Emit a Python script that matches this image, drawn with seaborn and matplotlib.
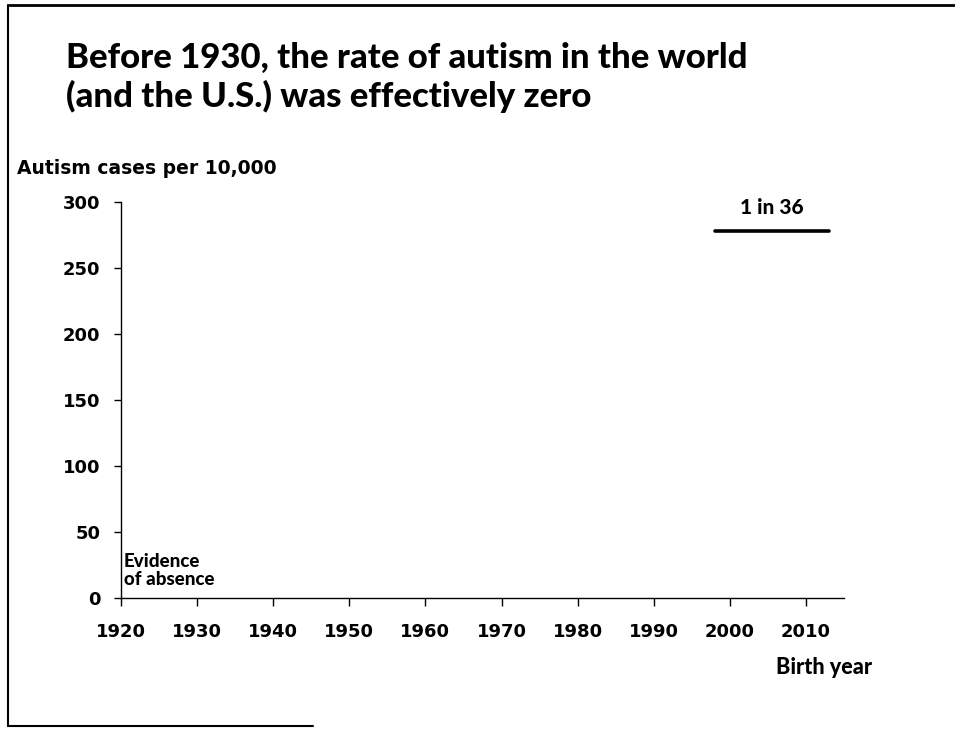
import matplotlib
matplotlib.use("Agg")
import matplotlib.pyplot as plt
from matplotlib.lines import Line2D
import seaborn as sns
import pandas as pd

# ---- data ----
title_lines = ["Before 1930, the rate of autism in the world",
               "(and the U.S.) was effectively zero"]
y_label = "Autism cases per 10,000"
x_label = "Birth year"
x_ticks = [1920, 1930, 1940, 1950, 1960, 1970, 1980, 1990, 2000, 2010]
y_ticks = [0, 50, 100, 150, 200, 250, 300]
rate_years = [1998, 2013]
rate_values = [277.8, 277.8]
rate_label = "1 in 36"
note_text = "Evidence\nof absence"

sns.set_theme(style="white")
plt.rcParams['font.family'] = ['Lato', 'DejaVu Sans']
plt.rcParams['text.color'] = 'black'
plt.rcParams['xtick.color'] = 'black'
plt.rcParams['ytick.color'] = 'black'
HEAVY = ['DejaVu Sans']

fig = plt.figure(figsize=(9.55, 7.29), dpi=100)
ax = fig.add_axes([121/955, 1-598/729, (844-121)/955, (598-202)/729])

df = pd.DataFrame({"year": rate_years, "rate": rate_values})
sns.lineplot(data=df, x="year", y="rate", ax=ax, color="black", linewidth=2.6)

W = "black"
ax.set_xlim(1920, 2015)
ax.set_ylim(0, 300)
ax.set_xticks(x_ticks)
ax.set_yticks(y_ticks)
ax.set_xticklabels([str(t) for t in x_ticks], fontsize=13, fontweight="bold", family=HEAVY)
ax.set_yticklabels([str(t) for t in y_ticks], fontsize=13, fontweight="bold", family=HEAVY)
ax.set_xlabel("")
ax.set_ylabel("")
for s in ["top", "right"]:
    ax.spines[s].set_visible(False)
for s in ["left", "bottom"]:
    ax.spines[s].set_color("black")
    ax.spines[s].set_linewidth(1.0)
ax.tick_params(axis="x", direction="out", length=6, width=1, color="black", pad=12, bottom=True)
ax.tick_params(axis="y", direction="out", length=5, width=1, color="black", pad=10, left=True)
ax.grid(False)

ax.text(sum(rate_years)/2, rate_values[0] + 11, rate_label, ha="center", va="bottom",
        fontsize=15, fontweight=W)
ax.text(1920.4, 21, note_text, ha="left", va="center", fontsize=13.5,
        fontweight=W, linespacing=1.05)

# titles / labels in figure space
fig.text(66/955, 1-58/729, title_lines[0], ha="left", va="center", fontsize=25, fontweight=W)
fig.text(66/955, 1-96/729, title_lines[1], ha="left", va="center", fontsize=25, fontweight=W)
fig.text(17/955, 1-168/729, y_label, ha="left", va="center", fontsize=13.5, fontweight="bold", family=HEAVY)
fig.text(872/955, 1-668/729, x_label, ha="right", va="center", fontsize=15.5, fontweight=W)

# slide frame
fig.add_artist(Line2D([9/955, 1.0], [1-5/729, 1-5/729], transform=fig.transFigure, color="black", lw=2))
fig.add_artist(Line2D([8/955, 8/955], [1-5/729, 1-726/729], transform=fig.transFigure, color="black", lw=1.5))
fig.add_artist(Line2D([8/955, 313/955], [1-726/729, 1-726/729], transform=fig.transFigure, color="black", lw=1.5))

fig.savefig("out.png", dpi=100)
